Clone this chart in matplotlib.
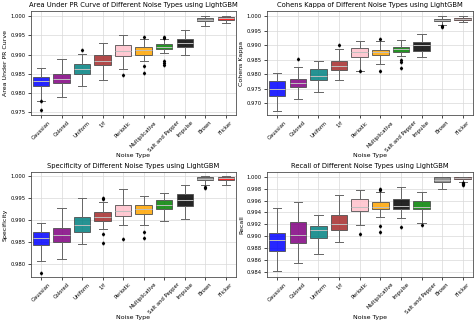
import matplotlib
matplotlib.use("Agg")
import matplotlib.pyplot as plt

# noise types and their colours
noise_types = ["Gaussian", "Colored", "Uniform", "1/f", "Periodic",
               "Multiplicative", "Salt and Pepper", "Impulse", "Brown", "Flicker"]
recall_order = ["Gaussian", "Colored", "Uniform", "1/f", "Periodic",
                "Multiplicative", "Impulse", "Salt and Pepper", "Brown", "Flicker"]
colors = {"Gaussian": "blue", "Colored": "purple", "Uniform": "teal", "1/f": "brown",
          "Periodic": "pink", "Multiplicative": "orange", "Salt and Pepper": "green",
          "Impulse": "black", "Brown": "gray", "Flicker": "red"}

# box statistics: whislo, q1, med, q3, whishi (order as noise_types)
auprc_whislo = [0.9780, 0.9790, 0.9818, 0.9834, 0.9864, 0.9883, 0.9903, 0.9900, 0.9975, 0.9982]
auprc_q1     = [0.9818, 0.9827, 0.9849, 0.9873, 0.9897, 0.9900, 0.9915, 0.9920, 0.9987, 0.9990]
auprc_med    = [0.9831, 0.9838, 0.9862, 0.9884, 0.9910, 0.9911, 0.9920, 0.9930, 0.9991, 0.9994]
auprc_q3     = [0.9843, 0.9851, 0.9875, 0.9899, 0.9925, 0.9921, 0.9927, 0.9940, 0.9995, 0.9997]
auprc_whishi = [0.9866, 0.9888, 0.9902, 0.9930, 0.9950, 0.9940, 0.9940, 0.9965, 1.0000, 1.0000]
auprc_fliers = [[0.9779, 0.9757], [], [0.9912], [], [0.9848],
                [0.9870, 0.9853, 0.9947], [0.9947, 0.9944, 0.9883, 0.9878, 0.9874], [], [], []]

kappa_whislo = [0.9675, 0.9717, 0.9740, 0.9780, 0.9813, 0.9836, 0.9862, 0.9858, 0.9970, 0.9978]
kappa_q1     = [0.9727, 0.9755, 0.9782, 0.9814, 0.9858, 0.9866, 0.9878, 0.9881, 0.9982, 0.9987]
kappa_med    = [0.9750, 0.9770, 0.9795, 0.9828, 0.9875, 0.9875, 0.9887, 0.9899, 0.9986, 0.9991]
kappa_q3     = [0.9776, 0.9785, 0.9817, 0.9847, 0.9889, 0.9885, 0.9895, 0.9912, 0.9990, 0.9995]
kappa_whishi = [0.9805, 0.9826, 0.9845, 0.9887, 0.9913, 0.9913, 0.9918, 0.9940, 1.0000, 1.0000]
kappa_fliers = [[], [0.9853], [], [0.9900], [0.9810], [0.9922, 0.9812],
                [0.9848, 0.9843, 0.9822], [], [0.9965, 0.9962], []]

spec_whislo = [0.9807, 0.9810, 0.9845, 0.9879, 0.9888, 0.9888, 0.9897, 0.9902, 0.9980, 0.9980]
spec_q1     = [0.9844, 0.9849, 0.9873, 0.9898, 0.9909, 0.9913, 0.9926, 0.9932, 0.9992, 0.9992]
spec_med    = [0.9858, 0.9866, 0.9888, 0.9906, 0.9920, 0.9926, 0.9935, 0.9947, 0.9995, 0.9996]
spec_q3     = [0.9873, 0.9881, 0.9908, 0.9918, 0.9935, 0.9935, 0.9946, 0.9960, 0.9998, 0.9999]
spec_whishi = [0.9893, 0.9927, 0.9950, 0.9942, 0.9971, 0.9956, 0.9961, 0.9981, 1.0000, 1.0000]
spec_fliers = [[0.9780], [], [], [0.9950, 0.9948, 0.9868, 0.9848], [0.9856],
               [0.9873, 0.9858], [], [], [0.9976, 0.9973], []]

# recall is in recall_order
recall_whislo = [0.9841, 0.9855, 0.9870, 0.9890, 0.9919, 0.9932, 0.9931, 0.9923, 0.9979, 0.9992]
recall_q1     = [0.9875, 0.9889, 0.9897, 0.9910, 0.9942, 0.9945, 0.9945, 0.9945, 0.9992, 0.9996]
recall_med    = [0.9893, 0.9902, 0.9910, 0.9921, 0.9950, 0.9950, 0.9951, 0.9950, 0.9995, 0.9998]
recall_q3     = [0.9906, 0.9924, 0.9918, 0.9936, 0.9962, 0.9958, 0.9962, 0.9960, 1.0000, 0.9999]
recall_whishi = [0.9948, 0.9957, 0.9936, 0.9970, 0.9978, 0.9975, 0.9983, 0.9975, 1.0000, 1.0000]
recall_fliers = [[], [], [], [], [0.9903], [0.9980, 0.9977, 0.9918, 0.9907], [0.9915],
                 [0.9919], [], [0.9990, 0.9989, 0.9988, 0.9987, 0.9986]]


def make_box(ax, names, whislo, q1, med, q3, whishi, fliers, title, ylabel):
    stats = []
    for i in range(len(names)):
        stats.append(dict(whislo=whislo[i], q1=q1[i], med=med[i], q3=q3[i],
                          whishi=whishi[i], fliers=fliers[i]))
    bp = ax.bxp(stats, widths=0.8, patch_artist=True,
                boxprops=dict(edgecolor="0.3", linewidth=0.7),
                whiskerprops=dict(color="0.4", linewidth=0.7),
                capprops=dict(color="0.4", linewidth=0.7),
                medianprops=dict(color="0.75", linewidth=0.7),
                flierprops=dict(marker="d", markerfacecolor="black",
                                markeredgecolor="black", markersize=1.5))
    for patch, name in zip(bp["boxes"], names):
        patch.set_facecolor(colors[name])
        patch.set_alpha(0.85)
    ax.set_xticks(range(1, len(names) + 1))
    ax.set_xticklabels(names, rotation=45, fontsize=3.8)
    ax.tick_params(axis="y", labelsize=3.8, length=2, width=0.5, pad=1.5)
    ax.tick_params(axis="x", length=2, width=0.5, pad=1.5)
    ax.grid(True, color="0.85", linewidth=0.5)
    ax.set_axisbelow(True)
    ax.set_title(title, fontsize=4.9, pad=3)
    ax.set_xlabel("Noise Type", fontsize=4.5)
    ax.xaxis.set_label_coords(0.5, -0.36)
    ax.set_ylabel(ylabel, fontsize=4.5, labelpad=2)
    for s in ax.spines.values():
        s.set_linewidth(0.6)
        s.set_color("0.3")


fig = plt.figure(figsize=(4.74, 3.27), dpi=100)
ax1 = fig.add_axes([0.065, 0.648, 0.433, 0.318])
ax2 = fig.add_axes([0.563, 0.648, 0.435, 0.318])
ax3 = fig.add_axes([0.065, 0.153, 0.433, 0.321])
ax4 = fig.add_axes([0.563, 0.153, 0.435, 0.321])

make_box(ax1, noise_types, auprc_whislo, auprc_q1, auprc_med, auprc_q3, auprc_whishi,
         auprc_fliers, "Area Under PR Curve of Different Noise Types using LightGBM",
         "Area Under PR Curve")
make_box(ax2, noise_types, kappa_whislo, kappa_q1, kappa_med, kappa_q3, kappa_whishi,
         kappa_fliers, "Cohens Kappa of Different Noise Types using LightGBM", "Cohens Kappa")
make_box(ax3, noise_types, spec_whislo, spec_q1, spec_med, spec_q3, spec_whishi,
         spec_fliers, "Specificity of Different Noise Types using LightGBM", "Specificity")
make_box(ax4, recall_order, recall_whislo, recall_q1, recall_med, recall_q3, recall_whishi,
         recall_fliers, "Recall of Different Noise Types using LightGBM", "Recall")

ax1.set_yticks([0.975, 0.980, 0.985, 0.990, 0.995, 1.000])
ax1.set_ylim(0.9743, 1.0013)
ax2.set_yticks([0.970, 0.975, 0.980, 0.985, 0.990, 0.995, 1.000])
ax2.set_ylim(0.9660, 1.0017)
ax3.set_yticks([0.980, 0.985, 0.990, 0.995, 1.000])
ax3.set_ylim(0.9770, 1.0010)
ax4.set_yticks([0.984, 0.986, 0.988, 0.990, 0.992, 0.994, 0.996, 0.998, 1.000])
ax4.set_ylim(0.98316, 1.0008)
for ax in [ax1, ax2, ax3, ax4]:
    ax.yaxis.set_major_formatter(matplotlib.ticker.FormatStrFormatter("%.3f"))

fig.savefig("out.png", dpi=100)
